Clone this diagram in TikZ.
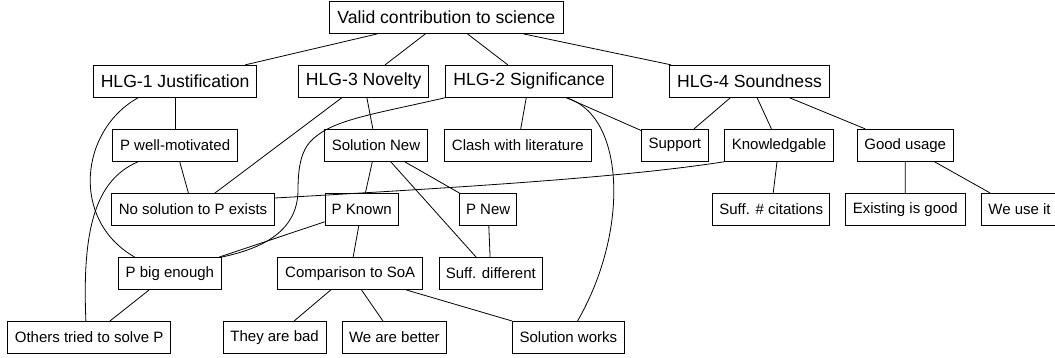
\documentclass[tikz,border=0pt]{standalone}
\usepackage{fontspec}
\setmainfont{Liberation Sans}
\begin{document}
\tikzset{
  box/.style={draw, line width=0.9pt, rectangle, inner sep=0pt, minimum height=32pt, font=\fontsize{15}{18}\selectfont},
  bigbox/.style={box, font=\fontsize{17.6}{21}\selectfont},
  edge/.style={line width=0.8pt}
}
\begin{tikzpicture}[x=1pt,y=-1pt]
\useasboundingbox (0,0) rectangle (1055,358);
% row 0
\node[bigbox, minimum width=233.7pt, minimum height=31.5pt] (valid) at (446.4,17.7) {Valid contribution to science};
% row 1
\node[bigbox, minimum width=163.6pt] (hlg1) at (175.1,81.3) {HLG-1 Justification};
\node[bigbox, minimum width=130.4pt] (hlg3) at (363.7,81.3) {HLG-3 Novelty};
\node[bigbox, minimum width=167.3pt] (hlg2) at (529.2,81.3) {HLG-2 Significance};
\node[bigbox, minimum width=160.1pt] (hlg4) at (749.5,81.3) {HLG-4 Soundness};
% row 2
\node[box, minimum width=125.2pt] (pwm) at (175.1,145.3) {P well-motivated};
\node[box, minimum width=103.1pt] (solnew) at (376,145.3) {Solution New};
\node[box, minimum width=146.5pt] (clash) at (517.8,145.3) {Clash with literature};
\node[box, minimum width=66.2pt] (support) at (674.9,145.3) {Support};
\node[box, minimum width=108.5pt] (knowl) at (779,145.3) {Knowledgable};
\node[box, minimum width=96.2pt] (good) at (905.2,145.3) {Good usage};
% row 3
\node[box, minimum width=162.6pt] (nosol) at (193,209.5) {No solution to P exists};
\node[box, minimum width=73pt] (pknown) at (361.7,209.5) {P Known};
\node[box, minimum width=56.8pt] (pnew) at (488.1,209.5) {P New};
\node[box, minimum width=116.7pt] (suffcit) at (771.2,209.5) {Suff. \# citations};
\node[box, minimum width=120.1pt] (existing) at (905.3,209.5) {Existing is good};
\node[box, minimum width=76pt] (weuse) at (1019.5,209.5) {We use it};
% row 4
\node[box, minimum width=102.7pt] (big) at (169.9,273.5) {P big enough};
\node[box, minimum width=144.7pt] (comp) at (350.2,273.5) {Comparison to SoA};
\node[box, minimum width=102.8pt] (suffdiff) at (490.8,273.5) {Suff. different};
% row 5
\node[box, minimum width=163.3pt] (others) at (89.1,337.5) {Others tried to solve P};
\node[box, minimum width=103.1pt] (bad) at (274.6,337.5) {They are bad};
\node[box, minimum width=103.8pt] (better) at (394.3,337.5) {We are better};
\node[box, minimum width=111.3pt] (works) at (568.4,337.5) {Solution works};

% straight edges
\draw[edge] (valid) -- (hlg1);
\draw[edge] (valid) -- (hlg3);
\draw[edge] (valid) -- (hlg2);
\draw[edge] (valid) -- (hlg4);
\draw[edge] (hlg1) -- (pwm);
\draw[edge] (hlg3) -- (nosol);
\draw[edge] (hlg3) -- (solnew);
\draw[edge] (hlg2) -- (clash);
\draw[edge] (hlg2) -- (support);
\draw[edge] (hlg4) -- (support);
\draw[edge] (hlg4) -- (knowl);
\draw[edge] (hlg4) -- (good);
\draw[edge] (pwm) -- (nosol);
\draw[edge] (solnew) -- (pknown);
\draw[edge] (solnew) -- (pnew);
\draw[edge] (solnew) -- (suffdiff);
\draw[edge] (knowl) -- (suffcit);
\draw[edge] (good) -- (existing);
\draw[edge] (good) -- (weuse);
\draw[edge] (pknown) -- (big);
\draw[edge] (pknown) -- (comp);
\draw[edge] (pnew) -- (suffdiff);
\draw[edge] (big) -- (others);
\draw[edge] (comp) -- (bad);
\draw[edge] (comp) -- (better);
\draw[edge] (comp) -- (works);

% curved edges
\draw[edge] (hlg1.-156) .. controls (80,130) and (70,220) .. (big.155);
\draw[edge] (pwm.-156) .. controls (95,180) and (82,230) .. (others.101);
\draw[edge] (hlg2.south west) .. controls (370,115) and (330,120) .. (310,142)
  .. controls (302,151) and (298,165) .. (298,190)
  .. controls (298,235) and (255,250) .. (big.north east);
\draw[edge] (hlg2.-24) .. controls (625,115) and (630,230) .. (works.61);
\draw[edge] (knowl.south west) .. controls (620,178) and (450,188) .. (nosol.8);
\end{tikzpicture}
\end{document}
